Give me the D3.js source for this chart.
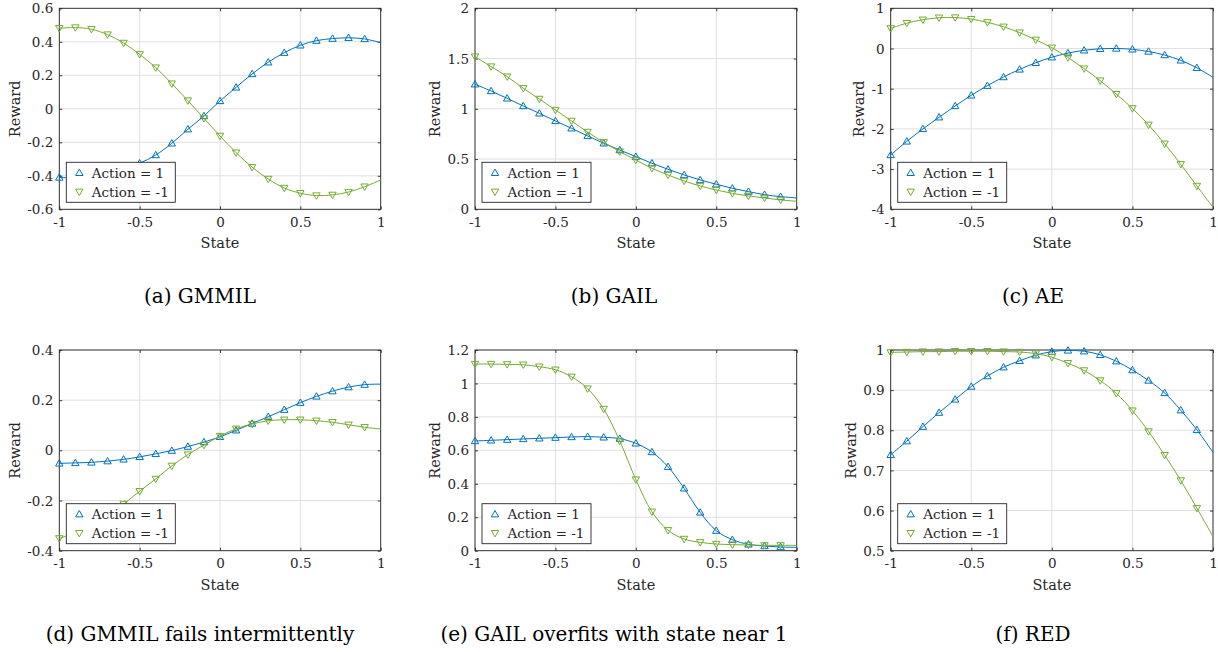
<!DOCTYPE html>
<html>
<meta charset="utf-8">
<title>Reward vs State</title>
<script src="https://d3js.org/d3.v7.min.js"></script>
<style>
body { margin: 0; background: #fff; }
text { font-family: "DejaVu Serif", serif; fill: #262626; }
.grid line { stroke: #e0e0e0; stroke-width: 1; }
.frame { fill: none; stroke: #262626; stroke-width: 0.9; }
.caption { fill: #000; font-size: 20px; }
</style>
<body>
<svg width="1218" height="652"></svg>
<script>
// states sampled every 0.1, markers on all but the last one
var states = [-1, -0.9, -0.8, -0.7, -0.6, -0.5, -0.4, -0.3, -0.2, -0.1, 0, 0.1, 0.2, 0.3, 0.4, 0.5, 0.6, 0.7, 0.8, 0.9, 1];
var xTicks = [-1, -0.5, 0, 0.5, 1];
var xTickLabels = ["-1", "-0.5", "0", "0.5", "1"];

var gmmilUp   = [-0.41, -0.412, -0.405, -0.39, -0.362, -0.325, -0.276, -0.206, -0.122, -0.043, 0.047, 0.128, 0.208, 0.278, 0.335, 0.379, 0.407, 0.419, 0.424, 0.417, 0.395];
var gmmilDown = [0.481, 0.485, 0.475, 0.443, 0.393, 0.325, 0.246, 0.150, 0.049, -0.057, -0.162, -0.262, -0.349, -0.419, -0.473, -0.504, -0.518, -0.514, -0.497, -0.465, -0.425];

var gailUp   = [1.244, 1.177, 1.104, 1.028, 0.955, 0.879, 0.806, 0.730, 0.657, 0.590, 0.524, 0.458, 0.398, 0.342, 0.292, 0.249, 0.209, 0.176, 0.146, 0.126, 0.113];
var gailDown = [1.519, 1.42, 1.32, 1.204, 1.098, 0.988, 0.879, 0.769, 0.667, 0.574, 0.491, 0.408, 0.342, 0.282, 0.232, 0.192, 0.159, 0.133, 0.113, 0.093, 0.08];

var aeUp   = [-2.648, -2.31, -2.0, -1.71, -1.43, -1.165, -0.925, -0.71, -0.52, -0.355, -0.218, -0.115, -0.045, -0.008, 0.0, -0.02, -0.075, -0.163, -0.295, -0.482, -0.716];
var aeDown = [0.5, 0.63, 0.715, 0.765, 0.77, 0.73, 0.65, 0.54, 0.395, 0.215, 0.02, -0.225, -0.5, -0.8, -1.135, -1.49, -1.9, -2.37, -2.88, -3.42, -3.95];

var gmmilFailUp   = [-0.052, -0.050, -0.048, -0.043, -0.036, -0.026, -0.014, -0.001, 0.015, 0.033, 0.054, 0.080, 0.107, 0.134, 0.162, 0.190, 0.215, 0.236, 0.252, 0.262, 0.264];
var gmmilFailDown = [-0.351, -0.328, -0.298, -0.26, -0.214, -0.163, -0.114, -0.062, -0.017, 0.021, 0.057, 0.086, 0.105, 0.118, 0.122, 0.122, 0.118, 0.112, 0.102, 0.092, 0.085];

var gailFailUp   = [0.656, 0.660, 0.664, 0.668, 0.672, 0.676, 0.680, 0.682, 0.678, 0.670, 0.642, 0.590, 0.502, 0.373, 0.229, 0.120, 0.066, 0.038, 0.028, 0.022, 0.02];
var gailFailDown = [1.116, 1.116, 1.114, 1.112, 1.100, 1.082, 1.040, 0.969, 0.847, 0.656, 0.425, 0.233, 0.122, 0.070, 0.050, 0.040, 0.036, 0.034, 0.032, 0.032, 0.032];

var redUp   = [0.739, 0.773, 0.809, 0.844, 0.877, 0.909, 0.935, 0.957, 0.973, 0.987, 0.996, 0.999, 0.997, 0.988, 0.972, 0.950, 0.924, 0.893, 0.850, 0.801, 0.745];
var redDown = [0.994, 0.995, 0.996, 0.996, 0.997, 0.997, 0.997, 0.996, 0.995, 0.991, 0.982, 0.967, 0.949, 0.924, 0.892, 0.849, 0.797, 0.738, 0.675, 0.606, 0.535];

var yTicksA = [-0.6, -0.4, -0.2, 0, 0.2, 0.4, 0.6], yLabelsA = ["-0.6", "-0.4", "-0.2", "0", "0.2", "0.4", "0.6"];
var yTicksB = [0, 0.5, 1, 1.5, 2], yLabelsB = ["0", "0.5", "1", "1.5", "2"];
var yTicksC = [-4, -3, -2, -1, 0, 1], yLabelsC = ["-4", "-3", "-2", "-1", "0", "1"];
var yTicksD = [-0.4, -0.2, 0, 0.2, 0.4], yLabelsD = ["-0.4", "-0.2", "0", "0.2", "0.4"];
var yTicksE = [0, 0.2, 0.4, 0.6, 0.8, 1, 1.2], yLabelsE = ["0", "0.2", "0.4", "0.6", "0.8", "1", "1.2"];
var yTicksF = [0.5, 0.6, 0.7, 0.8, 0.9, 1], yLabelsF = ["0.5", "0.6", "0.7", "0.8", "0.9", "1"];

var captions = ["(a) GMMIL", "(b) GAIL", "(c) AE", "(d) GMMIL fails intermittently", "(e) GAIL overfits with state near 1", "(f) RED"];
var legendNames = ["Action = 1", "Action = -1"];

var blue = "#0072BD", green = "#77AC30";

var panels = [
  { up: gmmilUp, down: gmmilDown, ticks: yTicksA, labels: yLabelsA },
  { up: gailUp, down: gailDown, ticks: yTicksB, labels: yLabelsB },
  { up: aeUp, down: aeDown, ticks: yTicksC, labels: yLabelsC },
  { up: gmmilFailUp, down: gmmilFailDown, ticks: yTicksD, labels: yLabelsD },
  { up: gailFailUp, down: gailFailDown, ticks: yTicksE, labels: yLabelsE },
  { up: redUp, down: redDown, ticks: yTicksF, labels: yLabelsF }
];

// plot boxes in page pixels
var cols = [[59.3, 380.7], [475, 796.7], [890.7, 1213]];
var rows = [[8.3, 209.3], [350, 550.7]];
var capX = [200, 614, 1033], capY = [303, 641];

var svg = d3.select("svg");
svg.append("rect").attr("width", 1218).attr("height", 652).attr("fill", "#fff");

function tri(up) {
  var w = 3.7, h = 6.4;
  return up ? "M0," + (-h * 0.58) + "L" + w + "," + (h * 0.42) + "L" + (-w) + "," + (h * 0.42) + "Z"
            : "M0," + (h * 0.58) + "L" + w + "," + (-h * 0.42) + "L" + (-w) + "," + (-h * 0.42) + "Z";
}

panels.forEach(function(p, i) {
  var c = cols[i % 3], r = rows[Math.floor(i / 3)];
  var x = d3.scaleLinear().domain([-1, 1]).range(c);
  var y = d3.scaleLinear().domain(d3.extent(p.ticks)).range([r[1], r[0]]);
  var g = svg.append("g");

  // grid
  var grid = g.append("g").attr("class", "grid");
  grid.selectAll(".gx").data(xTicks).enter().append("line")
    .attr("x1", x).attr("x2", x).attr("y1", r[0]).attr("y2", r[1]);
  grid.selectAll(".gy").data(p.ticks).enter().append("line")
    .attr("y1", y).attr("y2", y).attr("x1", c[0]).attr("x2", c[1]);

  // axes, ticks pointing inward
  var ax = g.append("g").attr("transform", "translate(0," + r[1] + ")")
    .call(d3.axisBottom(x).tickValues(xTicks).tickSize(-3).tickPadding(8)
      .tickFormat(function(d, k) { return xTickLabels[k]; }));
  var ay = g.append("g").attr("transform", "translate(" + c[0] + ",0)")
    .call(d3.axisLeft(y).tickValues(p.ticks).tickSize(-3).tickPadding(6)
      .tickFormat(function(d, k) { return p.labels[k]; }));
  g.append("g").attr("transform", "translate(0," + r[0] + ")")
    .call(d3.axisTop(x).tickValues(xTicks).tickSize(-3).tickFormat(""));
  g.append("g").attr("transform", "translate(" + c[1] + ",0)")
    .call(d3.axisRight(y).tickValues(p.ticks).tickSize(-3).tickFormat(""));
  g.selectAll(".domain").remove();
  g.selectAll(".tick line").attr("stroke", "#262626").attr("stroke-width", 0.9);
  g.selectAll(".tick text").attr("font-family", "DejaVu Serif").attr("font-size", 13.5).attr("fill", "#262626");
  ay.selectAll("text").attr("dy", "0.34em");

  g.append("rect").attr("class", "frame")
    .attr("x", c[0]).attr("y", r[0]).attr("width", c[1] - c[0]).attr("height", r[1] - r[0]);

  // series
  var line = d3.line().x(function(d, k) { return x(states[k]); }).y(function(d) { return y(d); })
    .curve(d3.curveCatmullRom.alpha(0.5));
  [[p.up, blue, true], [p.down, green, false]].forEach(function(s) {
    g.append("path").datum(s[0]).attr("d", line)
      .attr("fill", "none").attr("stroke", s[1]).attr("stroke-width", 1);
    g.selectAll(null).data(s[0].slice(0, 20)).enter().append("path")
      .attr("d", tri(s[2]))
      .attr("transform", function(d, k) { return "translate(" + x(states[k]) + "," + y(d) + ")"; })
      .attr("fill", "none").attr("stroke", s[1]).attr("stroke-width", 1);
  });

  // labels
  var minX = d3.min(ay.selectAll("text").nodes(), function(n) {
    var b = n.getBBox(); return b.x;
  }) + c[0];
  g.append("text").attr("transform", "translate(" + (minX - 7.5) + "," + ((r[0] + r[1]) / 2) + ") rotate(-90)")
    .attr("text-anchor", "middle").attr("font-size", 14.5).text("Reward");
  g.append("text").attr("x", (c[0] + c[1]) / 2).attr("y", r[1] + 39)
    .attr("text-anchor", "middle").attr("font-size", 14.5).text("State");

  // legend
  var lx = c[0] + 7, ly = r[1] - 7 - 40;
  var lg = g.append("g").attr("transform", "translate(" + lx + "," + ly + ")");
  lg.append("rect").attr("width", 109).attr("height", 40)
    .attr("fill", "#fff").attr("stroke", "#262626").attr("stroke-width", 0.9);
  legendNames.forEach(function(name, k) {
    var cy = k === 0 ? 10.5 : 29.5;
    lg.append("path").attr("d", tri(k === 0)).attr("transform", "translate(13," + cy + ")")
      .attr("fill", "none").attr("stroke", k === 0 ? blue : green).attr("stroke-width", 1);
    lg.append("text").attr("x", 25.5).attr("y", cy).attr("dy", "0.36em")
      .attr("font-size", 13.5).text(name);
  });

  svg.append("text").attr("class", "caption").attr("x", capX[i % 3]).attr("y", capY[Math.floor(i / 3)])
    .attr("text-anchor", "middle").text(captions[i]);
});
</script>
</body>
</html>
